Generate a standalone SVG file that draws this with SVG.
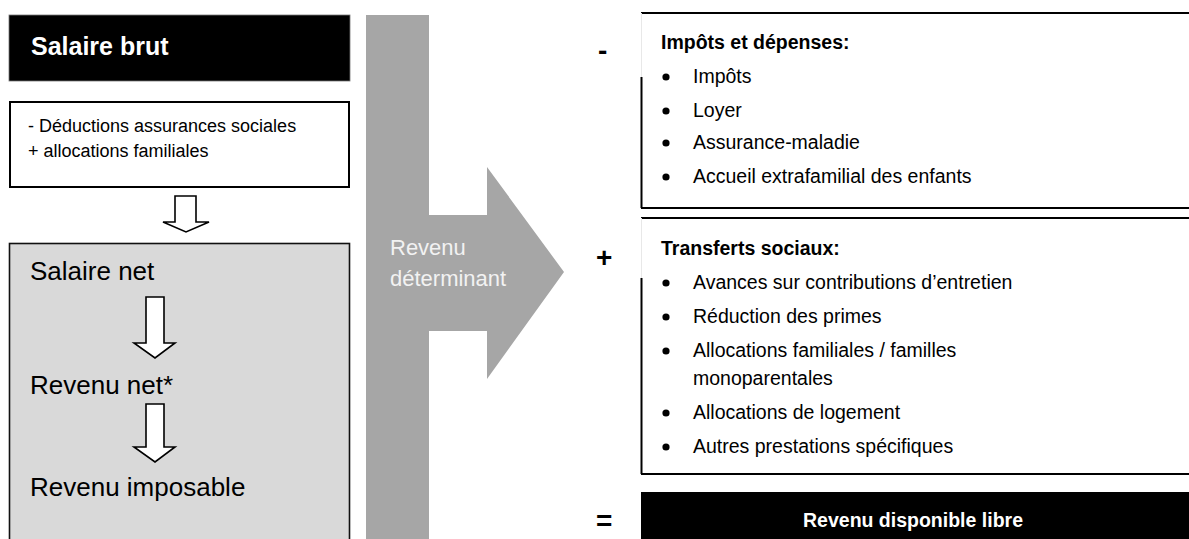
<svg xmlns="http://www.w3.org/2000/svg" width="1189" height="539" viewBox="0 0 1189 539">
<style>
text{font-family:'Liberation Sans',Arial,sans-serif;fill:#000}
.bold{font-weight:bold}
.hollow{fill:#fff;stroke:#000;stroke-width:1.6;stroke-linejoin:miter}
.item{font-size:19.5px}
.head{font-size:19.5px;font-weight:bold}
.edge{stroke:#000;stroke-width:2;fill:none}
.faint{stroke:#e8e8e8;stroke-width:1;fill:none}
.sign{font-size:28px;font-weight:bold}
.mid{font-size:26px}
</style>
<rect width="1189" height="539" fill="#fff"/>

<g id="salaire-brut">
<rect x="9" y="15" width="341" height="66" fill="#000" stroke="#777" stroke-width="0.8"/>
<text x="31" y="55" class="bold" font-size="25" style="fill:#fff">Salaire brut</text>
</g>

<g id="deductions">
<rect x="10" y="102" width="339" height="85" fill="#fff" stroke="#000" stroke-width="2"/>
<text x="28" y="132" font-size="18">- Déductions assurances sociales</text>
<text x="28" y="157" font-size="18">+ allocations familiales</text>
</g>

<g id="revenus">
<rect x="9.5" y="243.5" width="340" height="300" fill="#d9d9d9" stroke="#111" stroke-width="1.6"/>
<text x="30" y="280" class="mid">Salaire net</text>
<text x="30" y="394" class="mid">Revenu net*</text>
<text x="30" y="496" class="mid">Revenu imposable</text>
</g>

<g id="revenu-determinant">
<polygon points="366,15 429,15 429,215 487,215 487,167 564,272 487,379 487,331 429,331 429,539 366,539" fill="#a6a6a6"/>
<text x="390" y="255" font-size="22" style="fill:#f2f2f2">Revenu</text>
<text x="390" y="286" font-size="22" style="fill:#f2f2f2">déterminant</text>
</g>

<g id="signs">
<text x="598" y="60" class="sign" font-size="26">-</text>
<text x="596" y="267" class="sign">+</text>
<text x="596" y="530" class="sign">=</text>
</g>

<g id="impots">
<line x1="641" y1="13" x2="1189" y2="13" class="edge"/>
<line x1="641.5" y1="13" x2="641.5" y2="77" class="faint"/>
<line x1="641.5" y1="77" x2="641.5" y2="208" class="edge"/>
<line x1="641" y1="208" x2="1189" y2="208" class="edge"/>
<text x="661" y="49" class="head">Impôts et dépenses:</text>
<circle cx="666" cy="77" r="3.6"/>
<circle cx="666" cy="111" r="3.6"/>
<circle cx="666" cy="143" r="3.6"/>
<circle cx="666" cy="177" r="3.6"/>
<text x="693" y="83" class="item">Impôts</text>
<text x="693" y="117" class="item">Loyer</text>
<text x="693" y="149" class="item">Assurance-maladie</text>
<text x="693" y="183" class="item">Accueil extrafamilial des enfants</text>
</g>

<g id="transferts">
<line x1="641" y1="218" x2="1189" y2="218" class="edge"/>
<line x1="641.5" y1="218" x2="641.5" y2="278" class="faint"/>
<line x1="641.5" y1="278" x2="641.5" y2="474" class="edge"/>
<line x1="641" y1="474" x2="1189" y2="474" class="edge"/>
<text x="661" y="255" class="head">Transferts sociaux:</text>
<circle cx="666" cy="283" r="3.6"/>
<circle cx="666" cy="317" r="3.6"/>
<circle cx="666" cy="351" r="3.6"/>
<circle cx="666" cy="413" r="3.6"/>
<circle cx="666" cy="447" r="3.6"/>
<text x="693" y="289" class="item">Avances sur contributions d’entretien</text>
<text x="693" y="323" class="item">Réduction des primes</text>
<text x="693" y="357" class="item">Allocations familiales / familles</text>
<text x="693" y="385" class="item">monoparentales</text>
<text x="693" y="419" class="item">Allocations de logement</text>
<text x="693" y="453" class="item">Autres prestations spécifiques</text>
</g>

<g id="revenu-disponible">
<rect x="641" y="492" width="548" height="47" fill="#000"/>
<text x="913" y="527" class="head" text-anchor="middle" style="fill:#fff">Revenu disponible libre</text>
</g>

<g id="connectors">
<path class="hollow" d="M175,196 H196 V222 H209 L186,232 L163,222 H175 Z"/>
<path class="hollow" d="M146,297 H164 V343 H175 L155,358 L134,343 H146 Z"/>
<path class="hollow" d="M146,404 H164 V447 H175 L155,462 L134,447 H146 Z"/>
</g>
</svg>
